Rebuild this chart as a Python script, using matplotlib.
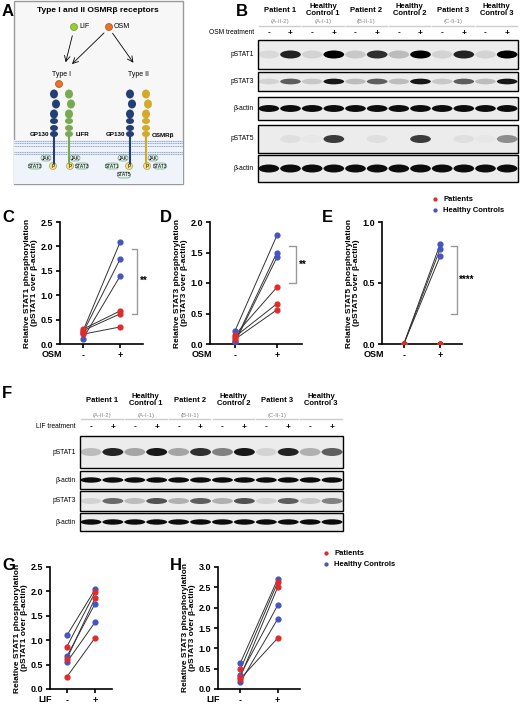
import matplotlib
matplotlib.use("Agg")
import matplotlib.pyplot as plt
import matplotlib.transforms as mtrans
from matplotlib.patches import Rectangle, Ellipse, Circle, FancyBboxPatch
import numpy as np

plt.rcParams['font.family'] = ['Liberation Sans', 'DejaVu Sans']

RED = '#e02b2b'; BLUE = '#4455c0'
W, H = 520, 704
fig = plt.figure(figsize=(5.2, 7.04), dpi=100)

def ax_px(x0, y0, x1, y1, **kw):
    return fig.add_axes([x0 / W, 1 - y1 / H, (x1 - x0) / W, (y1 - y0) / H], **kw)

# ---------- data ----------
groups = ["Patient 1", "Healthy\nControl 1", "Patient 2", "Healthy\nControl 2", "Patient 3", "Healthy\nControl 3"]
group_ids = ["(A-II-2)", "(A-I-1)", "(B-II-1)", "", "(C-II-1)", ""]
treat = ["-", "+"] * 6

b_pstat1 = [0.08, 0.85, 0.1, 1.0, 0.15, 0.8, 0.2, 1.0, 0.1, 0.85, 0.1, 1.0]
b_pstat3 = [0.1, 0.6, 0.15, 0.9, 0.2, 0.6, 0.2, 0.9, 0.15, 0.6, 0.2, 0.9]
b_actin = [0.95] * 12
b_pstat5 = [0.0, 0.05, 0.02, 0.75, 0.0, 0.05, 0.0, 0.75, 0.0, 0.05, 0.02, 0.4]

f_pstat1 = [0.2, 0.85, 0.3, 0.9, 0.3, 0.8, 0.45, 0.9, 0.1, 0.85, 0.25, 0.6]
f_actin = [0.95] * 12
f_pstat3 = [0.1, 0.55, 0.2, 0.65, 0.25, 0.6, 0.25, 0.65, 0.1, 0.6, 0.15, 0.45]

c_pat_minus = [0.30, 0.27, 0.20]; c_pat_plus = [0.68, 0.62, 0.35]
c_hc_minus = [0.25, 0.22, 0.10]; c_hc_plus = [2.10, 1.75, 1.40]
d_pat_minus = [0.15, 0.12, 0.08]; d_pat_plus = [0.93, 0.66, 0.56]
d_hc_minus = [0.22, 0.05, 0.03]; d_hc_plus = [1.78, 1.50, 1.42]
e_pat_minus = [0.0, 0.0, 0.0]; e_pat_plus = [0.0, 0.0, 0.0]
e_hc_minus = [0.0, 0.0, 0.0]; e_hc_plus = [0.82, 0.78, 0.72]
g_pat_minus = [0.87, 0.62, 0.25]; g_pat_plus = [1.98, 1.86, 1.05]
g_hc_minus = [1.10, 0.67, 0.55]; g_hc_plus = [2.04, 1.75, 1.37]
h_pat_minus = [0.48, 0.30, 0.25]; h_pat_plus = [2.62, 2.50, 1.25]
h_hc_minus = [0.64, 0.35, 0.17]; h_hc_plus = [2.70, 2.06, 1.72]

# ---------- panel letters ----------
for t, x, y in [("A", 2, 16), ("B", 236, 16), ("C", 2, 222), ("D", 160, 222), ("E", 322, 222),
                ("F", 2, 398), ("G", 2, 570), ("H", 170, 570)]:
    fig.text(x / W, 1 - y / H, t, fontsize=12, fontweight='bold', va='baseline')

# ---------- schematic A ----------
a = ax_px(0, 0, 200, 260)
a.set_xlim(0, 200); a.set_ylim(260, 0); a.axis('off')
a.add_patch(Rectangle((14, 1), 169, 183, fc='#f7f7f7', ec='#999999', lw=1))
a.add_patch(Rectangle((14, 140), 169, 44, fc='#eef4fa', ec='none'))
a.text(98, 10, "Type I and II OSMRβ receptors", ha='center', va='center', fontsize=6, fontweight='bold')
a.add_patch(Circle((74, 27), 3.5, fc='#9acd32', ec='#6a9a20', lw=0.5))
a.text(79, 27, "LIF", fontsize=5, va='center')
a.add_patch(Circle((109, 27), 3.5, fc='#e8742a', ec='#b05010', lw=0.5))
a.text(114, 27, "OSM", fontsize=5, va='center')
for (x0, y0, x1, y1) in [(73, 33, 65, 65), (106, 31, 70, 66), (111, 31, 135, 65)]:
    a.annotate("", xy=(x1, y1), xytext=(x0, y0), arrowprops=dict(arrowstyle='->', lw=0.6))
a.text(62, 75, "Type I", ha='center', fontsize=5, va='center')
a.text(138, 75, "Type II", ha='center', fontsize=5, va='center')
a.add_patch(Circle((59, 84), 3.5, fc='#e8742a', ec='#b05010', lw=0.5))
for y in [141, 143, 146, 152, 154]:
    a.plot([14, 183], [y, y], color='#8fa3c8', lw=0.8, ls=(0, (1, 0.6)))
def receptor(x, col):
    for i, yy in enumerate([94, 104, 114, 121, 128, 134]):
        a.add_patch(Ellipse((x + (2 if i in (1,) else 0), yy), 8, 9 if i < 3 else 6, fc=col, ec='none'))
    a.plot([x, x], [136, 163], color=col, lw=1.5)
receptor(54, '#243f73'); receptor(69, '#7aaa50'); receptor(130, '#243f73'); receptor(146, '#d4aa2a')
a.text(40, 135, "GP130", fontsize=4.5, fontweight='bold', va='center', ha='center')
a.text(82, 135, "LIFR", fontsize=4.5, fontweight='bold', va='center', ha='center')
a.text(115, 135, "GP130", fontsize=4.5, fontweight='bold', va='center', ha='center')
a.text(163, 135, "OSMRβ", fontsize=4.5, fontweight='bold', va='center', ha='center')
def pill(x, y, s, w=13):
    a.add_patch(FancyBboxPatch((x - w / 2, y - 3), w, 6, boxstyle='round,pad=0,rounding_size=3',
                               fc='#dff0e6', ec='#5a8a7a', lw=0.4))
    a.text(x, y, s, fontsize=3.5, ha='center', va='center')
def pcirc(x, y):
    a.add_patch(Circle((x, y), 3.5, fc='#f5e08a', ec='#a08a30', lw=0.4))
    a.text(x, y, "P", fontsize=3.5, ha='center', va='center')
pill(46, 158, "JAK", 10); pill(35, 166, "STAT3"); pcirc(53, 166)
pill(75, 158, "JAK", 10); pcirc(70, 166); pill(82, 166, "STAT3")
pill(123, 158, "JAK", 10); pill(112, 166, "STAT1"); pcirc(129, 166); pill(124, 175, "STAT5")
pill(153, 158, "JAK", 10); pcirc(147, 166); pill(160, 166, "STAT3")

# ---------- blot helper ----------
def blot_panel(x0, x1, title_y, id_y, treat_y, treat_label, rows, label_x, fs=5.5):
    ax = ax_px(0, 0, W, H)
    ax.set_xlim(0, W); ax.set_ylim(H, 0); ax.axis('off')
    lw_ = (x1 - x0) / 12
    for g in range(6):
        cx = x0 + lw_ * (2 * g + 1)
        ax.text(cx, title_y, groups[g], ha='center', va='center', fontsize=fs, fontweight='bold', linespacing=1.0)
        ax.plot([cx - lw_ * 0.95, cx + lw_ * 0.95], [id_y + 4, id_y + 4], color='#cccccc', lw=1)
        if group_ids[g]:
            ax.text(cx, id_y, group_ids[g], ha='center', va='center', fontsize=4.3, color='#888888')
    ax.text(label_x, treat_y, treat_label, ha='right', va='center', fontsize=4.8)
    for i in range(12):
        ax.text(x0 + lw_ * (i + 0.5), treat_y, treat[i], ha='center', va='center', fontsize=6, fontweight='bold')
    for name, y0, y1, vals in rows:
        ax.add_patch(Rectangle((x0, y0), x1 - x0, y1 - y0, fc='#ececec', ec='black', lw=1))
        yc = (y0 + y1) / 2
        bh = min((y1 - y0) * 0.3, 8)
        for i, v in enumerate(vals):
            ax.add_patch(Ellipse((x0 + lw_ * (i + 0.5), yc), lw_ - 1, bh, fc='black', alpha=v, ec='none'))
        ax.text(label_x, yc, name, ha='right', va='center', fontsize=4.8)

blot_panel(258, 518, 10, 22, 33, "OSM treatment",
           [("pSTAT1", 40, 69, b_pstat1), ("pSTAT3", 72, 91, b_pstat3), ("β-actin", 97, 120, b_actin),
            ("pSTAT5", 125, 153, b_pstat5), ("β-actin", 155, 182, b_actin)], 254)
blot_panel(80, 343, 400, 415, 427, "LIF treatment",
           [("pSTAT1", 436, 468, f_pstat1), ("β-actin", 471, 489, f_actin),
            ("pSTAT3", 491, 511, f_pstat3), ("β-actin", 513, 531, f_actin)], 76)

# ---------- scatter panels ----------
def pair_panel(box, ymax, step, pm, pp, hm, hp, ylabel, treat_label, sig=None, legend=None):
    ax = ax_px(*box)
    for m, p in zip(hm, hp):
        ax.plot([0, 1], [m, p], color='#333333', lw=0.7, zorder=1)
    for m, p in zip(pm, pp):
        ax.plot([0, 1], [m, p], color='#333333', lw=0.7, zorder=1)
    ax.scatter([0] * len(hm) + [1] * len(hp), hm + hp, color=BLUE, s=12, zorder=3, label='Healthy Controls')
    ax.scatter([0] * len(pm) + [1] * len(pp), pm + pp, color=RED, s=12, zorder=3, label='Patients')
    ax.set_xlim(-0.6, 1.6); ax.set_ylim(0, ymax)
    ax.set_yticks(np.arange(0, ymax + 1e-9, step))
    ax.set_yticklabels([f"{v:.1f}" for v in np.arange(0, ymax + 1e-9, step)])
    ax.set_xticks([0, 1]); ax.set_xticklabels(["-", "+"])
    for s in ['top', 'right']:
        ax.spines[s].set_visible(False)
    for s in ['left', 'bottom']:
        ax.spines[s].set_linewidth(1.2)
    ax.tick_params(labelsize=6.5, width=1.2, length=3, pad=2)
    for lbl in ax.get_yticklabels() + ax.get_xticklabels():
        lbl.set_fontweight('bold')
    ax.set_ylabel(ylabel, fontsize=6, fontweight='bold', linespacing=1.0, labelpad=2)
    tr = mtrans.blended_transform_factory(ax.transData, ax.transAxes)
    ax.text(-0.55, -0.05, treat_label, transform=tr, fontsize=6.5, fontweight='bold', ha='right', va='top')
    if sig:
        ylo, yhi, txt = sig
        ax.plot([1.3, 1.45, 1.45, 1.3], [ylo, ylo, yhi, yhi], color='#999999', lw=1, clip_on=False)
        ax.text(1.52, (ylo + yhi) / 2, txt, fontsize=7, fontweight='bold', va='center')
    if legend:
        h, l = ax.get_legend_handles_labels()
        fig.legend(h[::-1], l[::-1], loc='upper left', bbox_to_anchor=(legend[0] / W, 1 - legend[1] / H),
                   frameon=False, handletextpad=0.1, labelspacing=0.4, markerscale=0.6,
                   prop={'weight': 'bold', 'size': 5.5}, borderaxespad=0, borderpad=0)
    return ax

pair_panel((60, 222, 143, 344), 2.5, 0.5, c_pat_minus, c_pat_plus, c_hc_minus, c_hc_plus,
           "Relative STAT1 phosphorylation\n(pSTAT1 over β-actin)", "OSM", (0.62, 1.95, "**"))
pair_panel((210, 222, 302, 344), 2.0, 0.5, d_pat_minus, d_pat_plus, d_hc_minus, d_hc_plus,
           "Relative STAT3 phosphorylation\n(pSTAT3 over β-actin)", "OSM", (1.0, 1.6, "**"))
pair_panel((382, 222, 462, 344), 1.0, 0.5, e_pat_minus, e_pat_plus, e_hc_minus, e_hc_plus,
           "Relative STAT5 phosphorylation\n(pSTAT5 over β-actin)", "OSM", (0.25, 0.8, "****"),
           legend=(427, 196))
pair_panel((50, 567, 112, 689), 2.5, 0.5, g_pat_minus, g_pat_plus, g_hc_minus, g_hc_plus,
           "Relative STAT1 phosphorylation\n(pSTAT1 over β-actin)", "LIF")
pair_panel((218, 567, 300, 689), 3.0, 0.5, h_pat_minus, h_pat_plus, h_hc_minus, h_hc_plus,
           "Relative STAT3 phosphorylation\n(pSTAT3 over β-actin)", "LIF", legend=(318, 550))

fig.savefig("out.png", dpi=100)
